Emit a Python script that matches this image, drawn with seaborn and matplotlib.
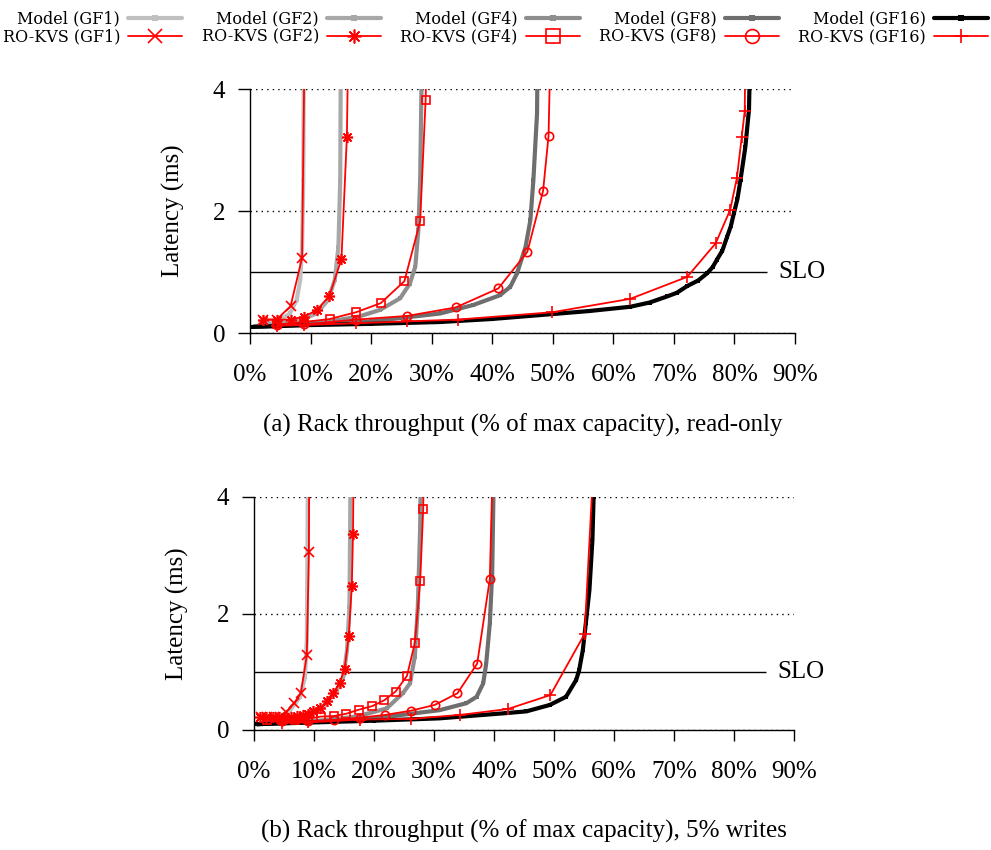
import matplotlib
matplotlib.use("Agg")
import matplotlib.pyplot as plt
import seaborn as sns

# Data: x = rack throughput (% of max capacity), y = latency (ms)
gf_names = ['GF1', 'GF2', 'GF4', 'GF8', 'GF16']
x_ticks = [0, 10, 20, 30, 40, 50, 60, 70, 80, 90]
x_tick_labels = ['0%', '10%', '20%', '30%', '40%', '50%', '60%', '70%', '80%', '90%']
y_ticks = [0, 2, 4]
slo_ms = 1.0
slo_end_pct = 85.3

# (a) read-only, model curves
model_a_x = [
    [0.5, 2, 3.9, 5.5, 6.6, 7.7, 8.3, 8.6, 8.8, 8.9],
    [0.5, 3, 6.6, 9, 11.0, 12.9, 14.0, 14.6, 14.9, 15.0],
    [0.5, 5, 13.2, 18, 21.5, 24.8, 26.4, 27.3, 27.8, 28.1, 28.4],
    [0.5, 10, 20, 31.4, 36.9, 41.3, 43.0, 44.1, 45.5, 46.3, 46.8, 47.4, 47.5],
    [0.5, 10, 20, 31.4, 40, 49.9, 56, 62.8, 66, 68.9, 70.5, 72.2, 74, 75.5, 76.4,
     77.1, 78.0, 78.8, 79.4, 79.9, 80.5, 81.0, 81.8, 82.4, 82.6],
]
model_a_y = [
    [0.1, 0.14, 0.19, 0.25, 0.32, 0.54, 0.87, 1.41, 2.51, 4.6],
    [0.1, 0.14, 0.19, 0.24, 0.32, 0.54, 0.87, 1.41, 2.51, 4.6],
    [0.1, 0.13, 0.19, 0.27, 0.38, 0.57, 0.81, 1.09, 1.69, 2.51, 4.6],
    [0.1, 0.14, 0.19, 0.32, 0.46, 0.62, 0.76, 0.98, 1.41, 1.85, 2.51, 3.6, 4.6],
    [0.1, 0.13, 0.15, 0.18, 0.23, 0.31, 0.36, 0.43, 0.5, 0.60, 0.66, 0.77, 0.86, 0.98, 1.08,
     1.20, 1.35, 1.58, 1.75, 1.96, 2.2, 2.51, 3.05, 3.66, 4.6],
]
# (a) read-only, RO-KVS measurements
kvs_a_x = [
    [2.2, 4.4, 6.7, 8.6, 9.0],
    [2.2, 4.4, 6.7, 8.9, 11.0, 13.1, 15.1, 16.0, 16.2],
    [4.4, 8.9, 13.2, 17.5, 21.6, 25.5, 28.1, 29.0, 29.2],
    [4.4, 8.9, 17.5, 26.0, 34.0, 41.0, 45.8, 48.4, 49.3, 49.6],
    [4.4, 8.9, 17.5, 26.0, 34.3, 49.9, 62.8, 72.2, 76.9, 79.3, 80.4, 81.2, 81.7, 81.8],
]
kvs_a_y = [
    [0.22, 0.22, 0.44, 1.23, 4.6],
    [0.22, 0.22, 0.22, 0.27, 0.37, 0.61, 1.21, 3.22, 4.6],
    [0.14, 0.18, 0.23, 0.34, 0.49, 0.85, 1.83, 3.82, 4.6],
    [0.13, 0.14, 0.22, 0.28, 0.42, 0.73, 1.33, 2.33, 3.23, 4.6],
    [0.12, 0.13, 0.16, 0.19, 0.22, 0.34, 0.56, 0.92, 1.47, 2.02, 2.54, 3.21, 3.64, 4.6],
]

# (b) 5% writes, model curves
model_b_x = [
    [0.5, 2, 4, 6.0, 7.7, 8.5, 8.8, 8.9, 9.0],
    [0.5, 4, 8, 11.5, 13.8, 14.9, 15.5, 15.9, 16.0, 16.1],
    [0.5, 10, 17.1, 22.1, 24.8, 26.0, 26.8, 27.3, 27.7, 27.8],
    [0.5, 10, 20, 30.9, 35.4, 37.1, 38.2, 38.7, 39.3, 39.7, 39.9, 40.0],
    [0.5, 10, 20, 30.9, 42.0, 45.4, 49.3, 52.0, 53.7, 54.2, 54.8, 55.3, 55.9, 56.4, 56.6, 56.7],
]
model_b_y = [
    [0.1, 0.14, 0.2, 0.34, 0.57, 0.91, 1.54, 3.0, 4.6],
    [0.1, 0.13, 0.2, 0.4, 0.69, 0.91, 1.37, 2.11, 3.2, 4.6],
    [0.1, 0.15, 0.23, 0.37, 0.63, 0.80, 1.26, 2.11, 3.5, 4.6],
    [0.1, 0.14, 0.2, 0.34, 0.46, 0.57, 0.80, 1.14, 1.83, 2.69, 4.0, 4.6],
    [0.1, 0.13, 0.16, 0.20, 0.29, 0.32, 0.43, 0.57, 0.86, 1.03, 1.37, 1.83, 2.40, 3.26, 4.0, 4.6],
]
# (b) 5% writes, RO-KVS measurements
kvs_b_x = [
    [1.1, 2.2, 3.3, 4.4, 5.4, 6.7, 7.8, 8.8, 9.15, 9.2],
    [1.0, 2.0, 3.1, 4.1, 5.1, 6.1, 7.1, 8.2, 9.0, 9.9, 11.0, 12.1, 13.2, 14.3, 15.1, 15.8,
     16.3, 16.5, 16.6],
    [2.2, 4.6, 6.8, 9.0, 11.1, 13.3, 15.4, 17.5, 19.7, 21.7, 23.6, 25.5, 26.8, 27.7, 28.2, 28.3],
    [4.6, 9.0, 13.3, 17.6, 21.9, 26.1, 30.1, 33.9, 37.2, 39.3, 39.8],
    [4.6, 9.0, 17.6, 26.1, 34.4, 42.3, 49.4, 55.1, 56.6],
]
kvs_b_y = [
    [0.22, 0.22, 0.22, 0.23, 0.31, 0.46, 0.63, 1.28, 3.05, 4.6],
    [0.22, 0.22, 0.22, 0.22, 0.22, 0.23, 0.24, 0.26, 0.28, 0.33, 0.37, 0.49, 0.63, 0.81, 1.05, 1.62,
     2.47, 3.37, 4.6],
    [0.18, 0.17, 0.17, 0.19, 0.23, 0.24, 0.28, 0.35, 0.41, 0.51, 0.66, 0.93, 1.49, 2.56, 3.79, 4.6],
    [0.15, 0.15, 0.17, 0.21, 0.26, 0.33, 0.43, 0.63, 1.14, 2.59, 4.6],
    [0.12, 0.13, 0.18, 0.19, 0.26, 0.36, 0.60, 1.65, 4.6],
]

# Styles
model_colors = ['#c0c0c0', '#a8a8a8', '#8e8e8e', '#6e6e6e', '#000000']
kvs_markers = ['x', (8, 2, 0), 's', 'o', '+']
kvs_sizes = [7, 8, 6, 6, 8]

sns.set_theme(style="white")
plt.rcParams['font.family'] = ['Liberation Serif', 'DejaVu Serif']
plt.rcParams['text.color'] = 'black'
plt.rcParams['axes.labelcolor'] = 'black'
plt.rcParams['xtick.color'] = 'black'
plt.rcParams['ytick.color'] = 'black'

fig = plt.figure(figsize=(9.91, 8.5), dpi=100)
ax_a = fig.add_axes([250 / 991, 1 - 333 / 850, 545 / 991, 244 / 850])
ax_b = fig.add_axes([254 / 991, 1 - 730 / 850, 540 / 991, 233 / 850])


def draw_panel(ax, mx, my, kx, ky, xlabel, xlabelpad):
    for i in range(5):
        sns.lineplot(x=mx[i], y=my[i], ax=ax, sort=False, estimator=None,
                     color=model_colors[i], lw=3, marker='s', markersize=3.5,
                     markeredgewidth=0, markeredgecolor=model_colors[i],
                     label=f'Model ({gf_names[i]})', legend=False, zorder=2)
    for i in range(5):
        sns.lineplot(x=kx[i], y=ky[i], ax=ax, sort=False, estimator=None,
                     color='red', lw=1.3, marker=kvs_markers[i], markersize=kvs_sizes[i],
                     markeredgecolor='red', markerfacecolor='none', markeredgewidth=1.2,
                     label=f'RO-KVS ({gf_names[i]})', legend=False, zorder=3)

    ax.hlines(slo_ms, 0, slo_end_pct, color='black', lw=1, clip_on=False, zorder=1)
    ax.text(slo_end_pct + 2, slo_ms, 'SLO', fontsize=18, va='center', ha='left')

    ax.set_xlim(0, 90)
    ax.set_ylim(0, 4)
    ax.set_xticks(x_ticks)
    ax.set_xticklabels(x_tick_labels)
    ax.set_yticks(y_ticks)
    ax.yaxis.grid(True, linestyle=(0, (1, 3)), color='black', lw=1)
    ax.xaxis.grid(False)
    ax.tick_params(axis='x', direction='out', length=8, width=1, pad=14,
                   labelsize=18, bottom=True, color='black')
    ax.tick_params(axis='y', direction='out', length=9, width=1, pad=9,
                   labelsize=18, left=True, color='black')
    for side in ['top', 'right']:
        ax.spines[side].set_visible(False)
    for side in ['left', 'bottom']:
        ax.spines[side].set_color('black')
        ax.spines[side].set_linewidth(1)
    ax.set_xlabel(xlabel, fontsize=18, labelpad=xlabelpad)
    ax.set_ylabel('Latency (ms)', fontsize=18, labelpad=20)


draw_panel(ax_a, model_a_x, model_a_y, kvs_a_x, kvs_a_y,
           '(a) Rack throughput (% of max capacity), read-only', 20.5)
draw_panel(ax_b, model_b_x, model_b_y, kvs_b_x, kvs_b_y,
           '(b) Rack throughput (% of max capacity), 5% writes', 27)

handles, labels = ax_a.get_legend_handles_labels()
lookup = dict(zip(labels, handles))
order = []
for g in gf_names:
    order.append(f'Model ({g})')
    order.append(f'RO-KVS ({g})')
leg = fig.legend([lookup[o] for o in order], order, ncol=5, loc='upper center',
                 bbox_to_anchor=(0.5, 1.005), frameon=False, markerfirst=False,
                 handlelength=3.4, columnspacing=1.2, handletextpad=0.5,
                 labelspacing=0.1, prop={'family': 'DejaVu Serif', 'size': 11.5})
for h, lab in zip(leg.legend_handles, order):
    if lab.startswith('RO-KVS'):
        h.set_markersize(10)
    else:
        h.set_markersize(4.5)

fig.savefig('out.png', dpi=100)
